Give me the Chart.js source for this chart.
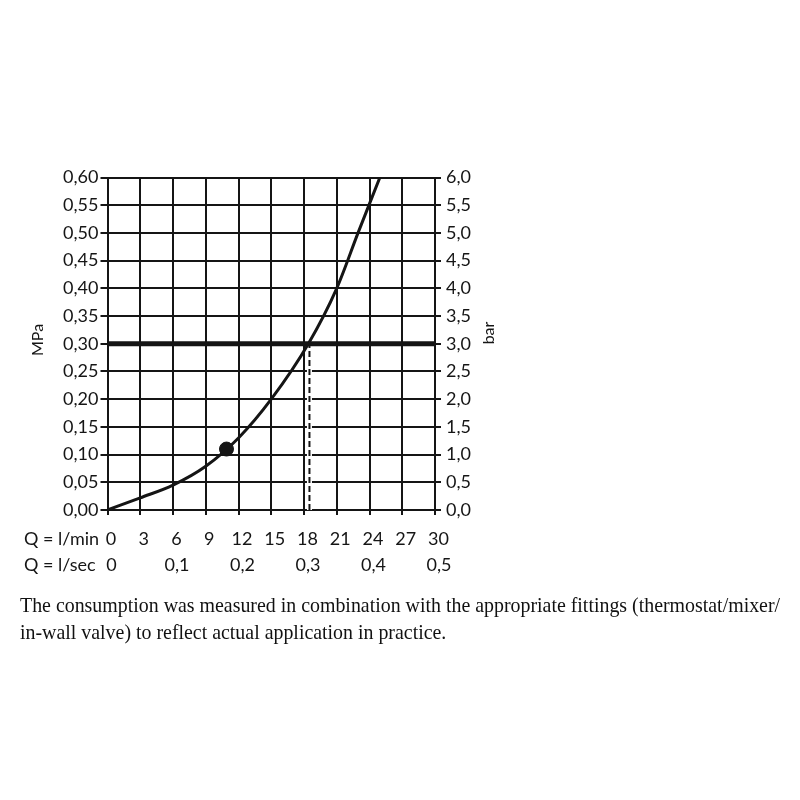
<!DOCTYPE html>
<html><head><meta charset="utf-8">
<script src="https://cdn.jsdelivr.net/npm/chart.js@4/dist/chart.umd.min.js"></script>
<style>
html,body{margin:0;padding:0;background:#fff;}
#wrap{position:relative;width:800px;height:800px;}
canvas{position:absolute;left:0;top:0;}
#caption{position:absolute;left:20px;top:592px;font-family:"Liberation Serif","Times New Roman",serif;font-size:19.9px;line-height:27px;color:#111;white-space:nowrap;}
</style></head><body>
<div id="wrap"><canvas id="c" width="800" height="800"></canvas>
<div id="caption">The consumption was measured in combination with the appropriate fittings (thermostat/mixer/<br>in-wall valve) to reflect actual application in practice.</div></div>
<script>
// ---- data ----
const flowLpm     = [0, 3, 6, 9, 12, 15, 18.4, 21.0, 22.95, 24.95];
const pressureMPa = [0, 0.022, 0.045, 0.079, 0.13, 0.20, 0.30, 0.40, 0.50, 0.60];
const operatingQ = [10.9];
const operatingP = [0.11];
const nominalPressure = [0.30, 0.30];
const nominalPressureQ = [0, 30];
const nominalFlowQ = [18.5, 18.5];
const nominalFlowP = [0, 0.30];
const xRangeLpm = [0, 30];
const yRangeMPa = [0, 0.6];
const yRangeBar = [0, 6];
const labelRows = ["Q = l/min", "Q = l/sec"];
const axisTitles = ["MPa", "bar"];

const INK = '#151515';
const FONT = "Lato, 'Open Sans', sans-serif";
const zip = (xs, ys) => xs.map((x, i) => ({x, y: ys[i]}));
const comma = (v, d) => v.toFixed(d).replace('.', ',');

const textPlugin = {
  id: 'texts',
  afterDraw(chart) {
    const c = chart.ctx;
    c.save();
    c.fillStyle = INK;
    c.font = "18px " + FONT;
    c.textAlign = 'left';
    c.textBaseline = 'middle';
    c.fillText(labelRows[0], 24, 539);
    c.fillText(labelRows[1], 24, 565);
    c.font = "16px " + FONT;
    c.textAlign = 'center';
    c.translate(38, 340); c.rotate(-Math.PI / 2); c.fillText(axisTitles[0], 0, 0);
    c.restore();
    c.save();
    c.fillStyle = INK;
    c.font = "16px " + FONT;
    c.textAlign = 'center';
    c.textBaseline = 'middle';
    c.translate(489, 333); c.rotate(-Math.PI / 2); c.fillText(axisTitles[1], 0, 0);
    c.restore();
  }
};

const tickFont = {family: FONT, size: 18};

new Chart(document.getElementById('c'), {
  type: 'scatter',
  data: {
    datasets: [
      {data: zip(operatingQ, operatingP), pointRadius: 7, pointBackgroundColor: INK, pointBorderColor: INK, showLine: false, order: 0},
      {data: zip(flowLpm, pressureMPa), showLine: true, borderColor: INK, borderWidth: 3, pointRadius: 0, cubicInterpolationMode: 'monotone', order: 1},
      {data: zip(nominalPressureQ, nominalPressure), showLine: true, borderColor: INK, borderWidth: 5, pointRadius: 0, order: 2},
      {data: zip(nominalFlowQ, nominalFlowP), showLine: true, borderColor: INK, borderWidth: 2, borderDash: [6, 3], pointRadius: 0, order: 3},
      {data: zip(nominalFlowQ, nominalFlowP), showLine: true, borderColor: '#ffffff', borderWidth: 5, pointRadius: 0, order: 4}
    ]
  },
  options: {
    responsive: false,
    animation: false,
    layout: {padding: {left: 28, right: 296, top: 177.5, bottom: 210}},
    plugins: {legend: {display: false}, tooltip: {enabled: false}},
    scales: {
      x: {
        type: 'linear', position: 'bottom', min: xRangeLpm[0], max: xRangeLpm[1],
        ticks: {stepSize: 3, font: tickFont, color: INK, padding: 13, labelOffset: 3.5, maxRotation: 0, autoSkip: false},
        grid: {color: INK, lineWidth: 2, tickLength: 5},
        border: {color: INK, width: 2},
        afterFit(s) { s.height = 40; }
      },
      x2: {
        type: 'linear', position: 'bottom', min: xRangeLpm[0], max: xRangeLpm[1],
        ticks: {stepSize: 6, font: tickFont, color: INK, padding: 4, labelOffset: 4, maxRotation: 0, autoSkip: false,
          callback: v => v === 0 ? '0' : comma(v / 60, 1)},
        grid: {display: false, drawTicks: false},
        border: {display: false},
        afterFit(s) { s.height = 40; }
      },
      y: {
        type: 'linear', position: 'left', min: yRangeMPa[0], max: yRangeMPa[1],
        ticks: {stepSize: 0.05, font: tickFont, color: INK, padding: 2, callback: v => comma(v, 2)},
        grid: {color: INK, lineWidth: 2, tickLength: 7},
        border: {color: INK, width: 2},
        afterFit(s) { s.width = 79.5; }
      },
      y2: {
        type: 'linear', position: 'right', min: yRangeBar[0], max: yRangeBar[1],
        ticks: {stepSize: 0.5, font: tickFont, color: INK, padding: 5, callback: v => comma(v, 1)},
        grid: {color: INK, lineWidth: 2, tickLength: 6, drawOnChartArea: false},
        border: {color: INK, width: 2},
        afterFit(s) { s.width = 69; }
      }
    }
  },
  plugins: [textPlugin]
});
</script>
</body></html>
